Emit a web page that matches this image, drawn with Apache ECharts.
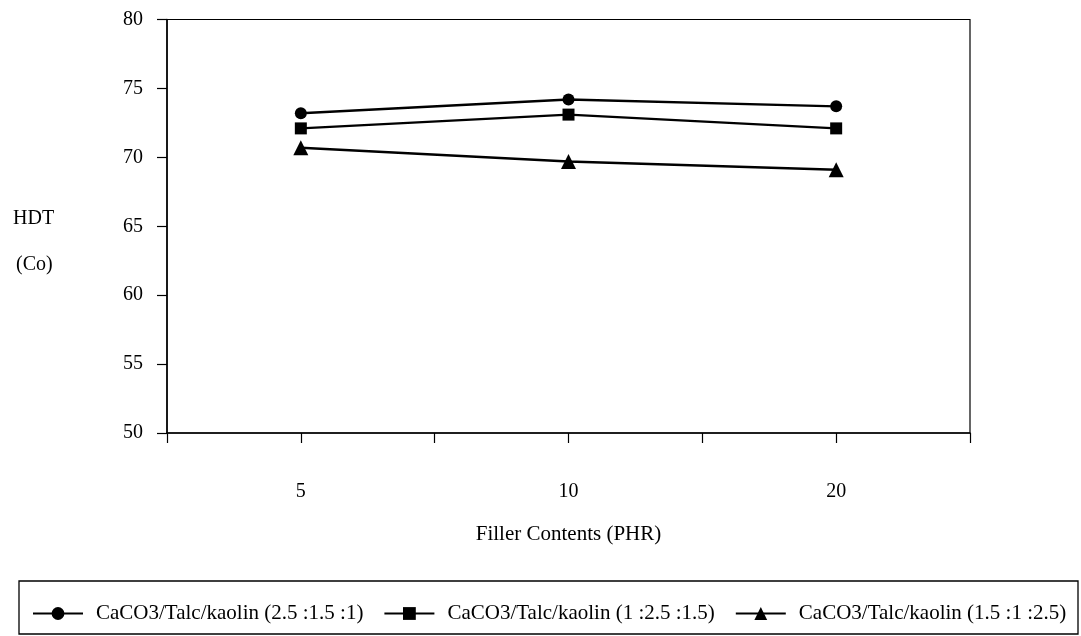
<!DOCTYPE html>
<html><head><meta charset="utf-8">
<script src="https://cdn.jsdelivr.net/npm/echarts@6/dist/echarts.min.js"></script>
<style>html,body{margin:0;padding:0;background:#fff}#c{width:1081px;height:636px}</style>
</head><body><div id="c"></div>
<script>
const categories = ['5', '10', '20'];
const seriesNames = ['CaCO3/Talc/kaolin (2.5 :1.5 :1)', 'CaCO3/Talc/kaolin (1 :2.5 :1.5)', 'CaCO3/Talc/kaolin (1.5 :1 :2.5)'];
const circleValues = [73.2, 74.2, 73.7];
const squareValues = [72.1, 73.1, 72.1];
const triangleValues = [70.7, 69.7, 69.1];
const yTicks = [50, 55, 60, 65, 70, 75, 80];

const font = '"Liberation Serif", "DejaVu Serif", serif';
const pos = i => 2 * i + 1;
const mk = vals => vals.map((v, i) => [pos(i), v]);

const chart = echarts.init(document.getElementById('c'));
const symbols = ['circle', 'rect', 'triangle'];
const allVals = [circleValues, squareValues, triangleValues];
chart.setOption({
  animation: false,
  backgroundColor: '#fff',
  textStyle: { fontFamily: font, color: '#000' },
  grid: { left: 167, top: 19.5, right: 111, bottom: 203, show: true, borderColor: '#000', borderWidth: 1.2 },
  xAxis: {
    type: 'value', min: 0, max: 2 * categories.length, interval: 1,
    axisLine: { lineStyle: { color: '#000', width: 1.5 } },
    axisTick: { show: true, length: 10, lineStyle: { color: '#000', width: 1.2 } },
    splitLine: { show: false },
    axisLabel: {
      margin: 49, fontSize: 20, fontFamily: font, color: '#000',
      showMinLabel: true, showMaxLabel: true,
      formatter: v => (v % 2 === 1 ? categories[(v - 1) / 2] : '')
    },
    name: 'Filler Contents (PHR)', nameLocation: 'middle', nameGap: 91,
    nameTextStyle: { fontSize: 21, fontFamily: font, color: '#000' }
  },
  yAxis: {
    type: 'value', min: yTicks[0], max: yTicks[yTicks.length - 1], interval: 5,
    axisLine: { show: true, lineStyle: { color: '#000', width: 1.5 } },
    axisTick: { show: true, length: 10, lineStyle: { color: '#000', width: 1.2 } },
    splitLine: { show: false },
    axisLabel: { margin: 24, fontSize: 20, fontFamily: font, color: '#000' }
  },
  legend: {
    left: 27, top: 598, itemGap: 20, itemWidth: 50, itemHeight: 16,
    textStyle: { fontSize: 21, fontFamily: font, color: '#000', padding: [0, 0, 0, 8] },
    data: seriesNames
  },
  graphic: [
    { type: 'rect', shape: { x: 19, y: 581, width: 1059, height: 53 }, style: { fill: 'none', stroke: '#000', lineWidth: 1.3 }, silent: true },
    { type: 'text', left: 13, top: 209, style: { text: 'HDT', font: '20px ' + font, fill: '#000' } },
    { type: 'text', left: 16, top: 255, style: { text: '(Co)', font: '20px ' + font, fill: '#000' } }
  ],
  series: seriesNames.map((n, i) => ({
    name: n, type: 'line', data: mk(allVals[i]),
    symbol: symbols[i], symbolSize: i === 2 ? 15 : 12,
    lineStyle: { color: '#000', width: 2.4 },
    itemStyle: { color: '#000' }
  }))
});
</script></body></html>
